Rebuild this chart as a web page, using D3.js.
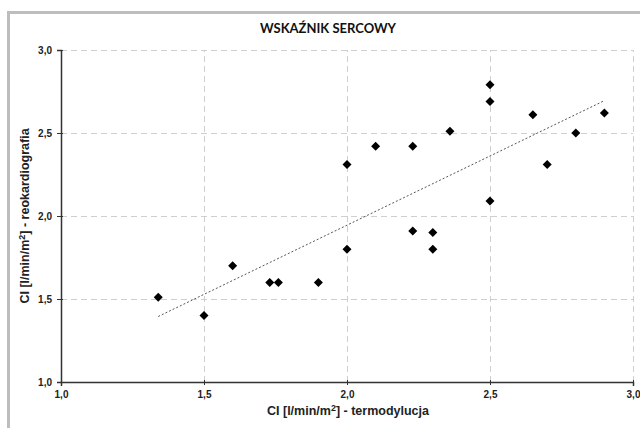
<!DOCTYPE html>
<html lang="pl">
<head>
<meta charset="UTF-8">
<title>Wskaźnik sercowy</title>
<script src="https://d3js.org/d3.v7.min.js"></script>
<style>
  body { margin: 0; background: #fff; }
  svg { display: block; }
  .tick text { font-family: "Liberation Sans", Arial, sans-serif; font-size: 10px; font-weight: bold; fill: #222; }
</style>
</head>
<body>
<svg width="640" height="428"></svg>
<script>
  // CI termodylucja (x) vs CI reokardiografia (y)
  const ciTermo = [1.34, 1.50, 1.60, 1.73, 1.76, 1.90, 2.00, 2.00, 2.10, 2.23, 2.23, 2.30, 2.30, 2.36, 2.50, 2.50, 2.50, 2.65, 2.70, 2.80, 2.90];
  const ciReo   = [1.51, 1.40, 1.70, 1.60, 1.60, 1.60, 1.80, 2.31, 2.42, 2.42, 1.91, 1.90, 1.80, 2.51, 2.79, 2.69, 2.09, 2.61, 2.31, 2.50, 2.62];
  const tickValues = [1.0, 1.5, 2.0, 2.5, 3.0];

  const svg = d3.select("svg");
  const margin = { left: 61, right: 7, top: 50, bottom: 46 };
  const width = 640, height = 428;

  const x = d3.scaleLinear().domain([1, 3]).range([margin.left, width - margin.right]);
  const y = d3.scaleLinear().domain([1, 3]).range([height - margin.bottom, margin.top]);
  const fmt = d => d3.format(".1f")(d).replace(".", ",");

  // outer chart frame
  svg.append("rect")
    .attr("x", 8.5).attr("y", 12.5)
    .attr("width", 700).attr("height", 500)
    .attr("fill", "#fff").attr("stroke", "#bdbdbd").attr("stroke-width", 3);

  // gridlines
  const grid = svg.append("g").attr("stroke", "#cfcfcf").attr("stroke-dasharray", "6,4").attr("stroke-width", 1);
  grid.selectAll(".gx").data(tickValues.slice(1)).join("line")
    .attr("x1", d => Math.round(x(d)) + 0.5).attr("x2", d => Math.round(x(d)) + 0.5)
    .attr("y1", y(1)).attr("y2", y(3));
  grid.selectAll(".gy").data(tickValues.slice(1)).join("line")
    .attr("y1", d => Math.round(y(d)) + 0.5).attr("y2", d => Math.round(y(d)) + 0.5)
    .attr("x1", x(1)).attr("x2", x(3));

  // axes
  const xAxis = svg.append("g")
    .attr("transform", `translate(0,${y(1)})`)
    .call(d3.axisBottom(x).tickValues(tickValues).tickFormat(fmt).tickSize(4).tickPadding(5));
  const yAxis = svg.append("g")
    .attr("transform", `translate(${x(1)},0)`)
    .call(d3.axisLeft(y).tickValues(tickValues).tickFormat(fmt).tickSize(4).tickPadding(5));
  [xAxis, yAxis].forEach(a => {
    a.select(".domain").attr("stroke", "#333").attr("stroke-width", 1.5);
    a.selectAll(".tick line").attr("stroke", "#333");
  });
  xAxis.selectAll(".tick line").attr("y1", -2).attr("y2", 3);
  yAxis.selectAll(".tick line").attr("x1", 2).attr("x2", -4);

  // linear trend (least squares)
  const n = ciTermo.length;
  const mx = d3.mean(ciTermo), my = d3.mean(ciReo);
  const slope = d3.sum(ciTermo, (v, i) => (v - mx) * (ciReo[i] - my)) / d3.sum(ciTermo, v => (v - mx) ** 2);
  const icpt = my - slope * mx;
  const ext = d3.extent(ciTermo);
  svg.append("line")
    .attr("x1", x(ext[0])).attr("y1", y(icpt + slope * ext[0]))
    .attr("x2", x(ext[1])).attr("y2", y(icpt + slope * ext[1]))
    .attr("stroke", "#555").attr("stroke-width", 1).attr("stroke-dasharray", "2,2");

  // diamond markers
  const dia = 4.5;
  svg.append("g").selectAll("path").data(d3.range(n)).join("path")
    .attr("d", i => {
      const cx = x(ciTermo[i]), cy = y(ciReo[i]);
      return `M${cx},${cy - dia}L${cx + dia},${cy}L${cx},${cy + dia}L${cx - dia},${cy}Z`;
    })
    .attr("fill", "#000");

  // titles
  svg.append("text")
    .attr("x", 328).attr("y", 33)
    .attr("text-anchor", "middle")
    .attr("font-family", "Lato, 'Open Sans', sans-serif")
    .attr("font-weight", "bold").attr("font-size", 13).attr("fill", "#111")
    .text("WSKAŹNIK SERCOWY");

  const xt = svg.append("text")
    .attr("x", 348).attr("y", 415)
    .attr("text-anchor", "middle")
    .attr("font-family", "'Liberation Sans', Arial, sans-serif")
    .attr("font-weight", "bold").attr("font-size", 12.5).attr("fill", "#222");
  xt.append("tspan").text("CI [l/min/m");
  xt.append("tspan").attr("dy", -4).attr("font-size", 9).text("2");
  xt.append("tspan").attr("dy", 4).text("] - termodylucja");

  const yt = svg.append("text")
    .attr("transform", `translate(29,${y(2)}) rotate(-90)`)
    .attr("text-anchor", "middle")
    .attr("font-family", "'Liberation Sans', Arial, sans-serif")
    .attr("font-weight", "bold").attr("font-size", 12.5).attr("fill", "#222");
  yt.append("tspan").text("CI [l/min/m");
  yt.append("tspan").attr("dy", -4).attr("font-size", 9).text("2");
  yt.append("tspan").attr("dy", 4).text("] - reokardiografia");
</script>
</body>
</html>
